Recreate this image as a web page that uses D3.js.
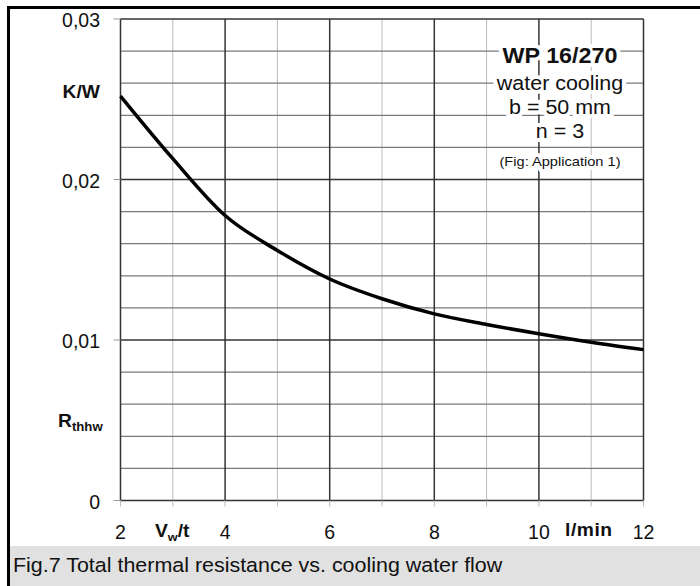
<!DOCTYPE html>
<html lang="en">
<head>
    <meta charset="UTF-8">
    <title>Total thermal resistance vs. cooling water flow</title>
    <script src="https://cdn.jsdelivr.net/npm/d3@7"></script>
    <style>
        body { margin: 0; background: #fff; }
        svg text { font-family: "Liberation Sans", Arial, sans-serif; fill: #111; }
        .bold { font-weight: bold; }
    </style>
</head>
<body>
    <svg width="700" height="586"></svg>

    <script>
        // cooling water flow (l/min) and thermal resistance (K/W)
        const flow = [2, 3, 4, 5, 6, 7, 8, 9, 10, 11, 12];
        const rth = [0.0252, 0.0213, 0.01776, 0.01558, 0.0138, 0.01257, 0.01163, 0.01097, 0.01039, 0.00986, 0.0094];

        const xTicks = [2, 4, 6, 8, 10, 12];
        const yTicks = [0, 0.01, 0.02, 0.03];
        const yTickLabels = ["0", "0,01", "0,02", "0,03"];
        const noteLines = ["WP 16/270", "water cooling", "b = 50 mm", "n = 3", "(Fig: Application 1)"];
        const caption = "Fig.7 Total thermal resistance vs. cooling water flow";

        let svg = d3.select("svg");

        const x = d3.scaleLinear().domain([2, 12]).range([120.5, 643.5]);
        const y = d3.scaleLinear().domain([0, 0.03]).range([500.5, 19]);

        // the scanned figure is a bit wider than it is tall, so most glyphs get stretched
        function label(px, py, size, anchor, stretch) {
            let s = stretch === undefined ? 1.1 : stretch;
            return svg.append("text")
                .attr("transform", "translate(" + px + "," + py + ") scale(" + s + ",1)")
                .attr("font-size", size)
                .attr("text-anchor", anchor || "start");
        }

        // caption box + outer frame
        svg.append("rect").attr("x", 9).attr("y", 546).attr("width", 691).attr("height", 40)
            .attr("fill", "#e1e1e1");
        label(13, 572, 19.5).text(caption);
        svg.append("path").attr("d", "M8.5,586V7.5H700")
            .attr("fill", "none").attr("stroke", "#000").attr("stroke-width", 3);

        // grid
        const g = svg.append("g");
        d3.range(3, 12, 2).forEach(function (v) {
            g.append("line").attr("x1", x(v)).attr("x2", x(v)).attr("y1", y(0)).attr("y2", y(0.03))
                .attr("stroke", "#bcbcbc").attr("stroke-width", 1);
        });
        d3.range(1, 15).forEach(function (i) {
            if (i % 5 === 0) return;
            let v = i * 0.002;
            g.append("line").attr("x1", x(2)).attr("x2", x(12)).attr("y1", y(v)).attr("y2", y(v))
                .attr("stroke", "#7a7a7a").attr("stroke-width", 1.2);
        });
        xTicks.forEach(function (v) {
            g.append("line").attr("x1", x(v)).attr("x2", x(v)).attr("y1", y(0)).attr("y2", y(0.03))
                .attr("stroke", "#333").attr("stroke-width", 1.5);
        });
        yTicks.forEach(function (v) {
            g.append("line").attr("x1", x(2)).attr("x2", x(12)).attr("y1", y(v)).attr("y2", y(v))
                .attr("stroke", "#333").attr("stroke-width", 1.5);
        });

        // small outside ticks
        yTicks.forEach(function (v) {
            g.append("line").attr("x1", x(2) - 7).attr("x2", x(2)).attr("y1", y(v)).attr("y2", y(v))
                .attr("stroke", "#999").attr("stroke-width", 1);
        });
        d3.range(2, 13).forEach(function (v) {
            g.append("line").attr("x1", x(v)).attr("x2", x(v)).attr("y1", y(0)).attr("y2", y(0) + 6)
                .attr("stroke", "#bbb").attr("stroke-width", 1);
        });

        // tick labels
        yTicks.forEach(function (v, i) {
            label(100, y(v) + 8, 19.5, "end", 1).text(yTickLabels[i]);
        });
        xTicks.forEach(function (v) {
            label(x(v), 539, 19.5, "middle", 1).text(v);
        });

        // axis titles
        label(100, 98, 17.5, "end").attr("class", "bold").text("K/W");
        let rt = label(58, 427, 17.5).attr("class", "bold");
        rt.append("tspan").text("R");
        rt.append("tspan").attr("dy", 4).attr("font-size", 12).text("thhw");
        let vt = label(155, 537, 17.5).attr("class", "bold");
        vt.append("tspan").text("V");
        vt.append("tspan").attr("dy", 4).attr("font-size", 11.5).text("w");
        vt.append("tspan").attr("dy", -4).text("/t");
        label(565, 536, 17.5).attr("class", "bold").attr("letter-spacing", 0.5).text("l/min");

        // annotation with white halo over the grid
        const noteY = [63, 90, 114, 138, 166];
        const noteSize = [22, 19.5, 19.5, 19.5, 13.3];
        const noteStretch = [1.06, 1.1, 1.1, 1.1, 1.1];
        noteLines.forEach(function (t, i) {
            label(560, noteY[i], noteSize[i], "middle", noteStretch[i])
                .attr("class", i === 0 ? "bold" : null)
                .attr("stroke", "#fff").attr("stroke-width", 8).attr("paint-order", "stroke")
                .attr("stroke-linejoin", "round")
                .text(t);
        });

        // curve
        const line = d3.line()
            .x(function (d, i) { return x(flow[i]); })
            .y(function (d) { return y(d); })
            .curve(d3.curveMonotoneX);
        svg.append("path").datum(rth)
            .attr("d", line)
            .attr("fill", "none")
            .attr("stroke", "#000")
            .attr("stroke-width", 3.5)
            .attr("stroke-linejoin", "round");
    </script>
</body>
</html>
